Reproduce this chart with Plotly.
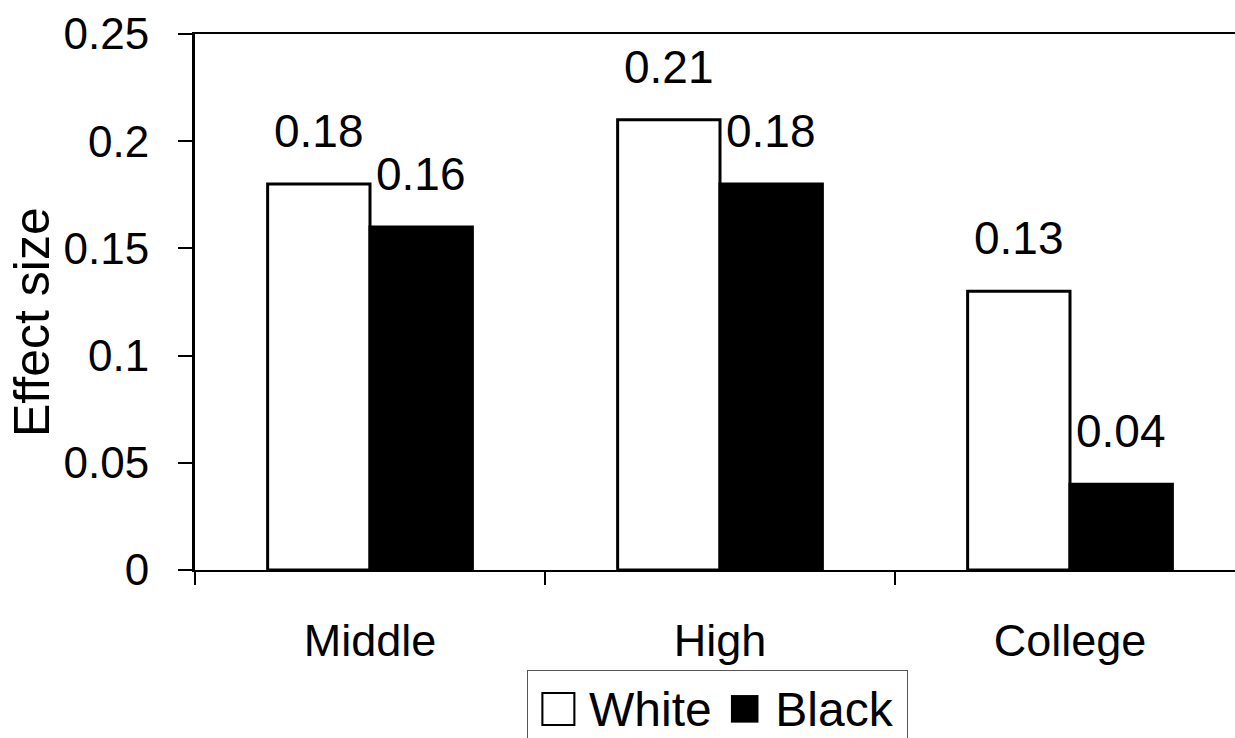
import plotly.graph_objects as go

categories = ["Middle", "High", "College"]
white_vals = [0.18, 0.21, 0.13]
black_vals = [0.16, 0.18, 0.04]
y_ticks = [0, 0.05, 0.1, 0.15, 0.2, 0.25]
y_ticklabels = ["0", "0.05", "0.1", "0.15", "0.2", "0.25"]
series_names = ["White", "Black"]

FONT = "Liberation Sans, Arial, sans-serif"
W, H = 1235, 738
L, R, T, B = 195, 0, 34, 168
pw = W - L - R
ph = H - T - B

def px_x(p):
    return (p - L) / pw

def px_y(p):
    return (H - B - p) / ph

fig = go.Figure()
fig.add_trace(go.Bar(x=categories, y=white_vals, name=series_names[0],
                     marker=dict(color="white", line=dict(color="black", width=3)),
                     showlegend=False))
fig.add_trace(go.Bar(x=categories, y=black_vals, name=series_names[1],
                     marker=dict(color="black", line=dict(color="black", width=3)),
                     showlegend=False))

bargap = 0.415
half = (1 - bargap) / 4
anns = []
for i, (wv, bv) in enumerate(zip(white_vals, black_vals)):
    for off, v in ((-half, wv), (half, bv)):
        anns.append(dict(x=i + off, y=v, xref="x", yref="y", text=f"{v:.2f}",
                         showarrow=False, yanchor="bottom", yshift=25,
                         font=dict(family=FONT, size=46, color="black")))

# y-axis title
anns.append(dict(x=px_x(32), y=px_y(322), xref="paper", yref="paper",
                 text="Effect size", textangle=-90, showarrow=False,
                 xanchor="center", yanchor="middle",
                 font=dict(family=FONT, size=50, color="black")))

# legend box
sq = "<span style='font-size:57px'>{}</span>"
legend_text = (sq.format("□") + " " + series_names[0] +
               sq.format(" ■") + " " + series_names[1])
anns.append(dict(x=px_x(527), y=px_y(670), xref="paper", yref="paper",
                 xanchor="left", yanchor="top",
                 text=legend_text, showarrow=False,
                 width=373, height=62, align="center", valign="top",
                 bordercolor="#555555", borderwidth=1, borderpad=3,
                 font=dict(family=FONT, size=48, color="black")))

fig.update_layout(
    width=W, height=H,
    margin=dict(l=L, r=R, t=T, b=B, pad=0),
    paper_bgcolor="white", plot_bgcolor="white",
    barmode="group", bargap=bargap, bargroupgap=0,
    font=dict(family=FONT, size=44, color="black"),
    annotations=anns,
    showlegend=False,
)
fig.update_xaxes(
    type="category", range=[-0.5, -0.5 + pw / 350],
    showline=True, linecolor="black", linewidth=2, mirror=True,
    ticks="outside", tickson="boundaries", ticklen=13, tickwidth=2, tickcolor="black",
    showgrid=False, zeroline=False,
    tickfont=dict(family=FONT, size=45, color="black"),
    ticklabelstandoff=30,
)
fig.update_yaxes(
    range=[0, 0.25], tickvals=y_ticks, ticktext=y_ticklabels,
    showline=True, linecolor="black", linewidth=3,
    ticks="outside", ticklen=14, tickwidth=2, tickcolor="black",
    showgrid=False, zeroline=False,
    tickfont=dict(family=FONT, size=44, color="black"),
    ticklabelstandoff=20,
)

fig.write_html("out.html")
